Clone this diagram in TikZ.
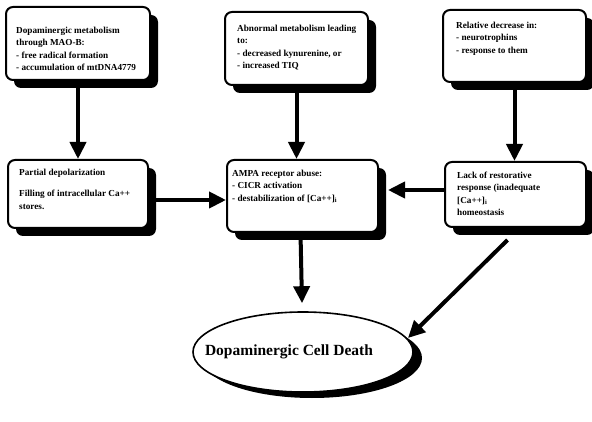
\documentclass[tikz,border=0pt]{standalone}
\usepackage{fontspec}
\setmainfont{Liberation Serif}
\usetikzlibrary{shapes.geometric,shadows,arrows.meta,calc}
\tikzset{
  box/.style={draw=black, line width=2pt, fill=white, rounded corners=7pt,
    drop shadow={shadow xshift=8pt, shadow yshift=-8pt, fill=black, opacity=1, rounded corners=7pt}},
  txt/.style={anchor=north west, inner sep=0pt, align=left, font=\bfseries\fontsize{9.2}{12.3}\selectfont},
  arr/.style={line width=4pt, -{Triangle[length=17pt,width=16pt]}},
}
\begin{document}
\begin{tikzpicture}[x=1pt,y=-1pt]
\useasboundingbox (0,0) rectangle (592,422);
% boxes
\node[box, minimum width=144pt, minimum height=73pt] (b1) at (78,43.5) {};
\node[box, minimum width=143pt, minimum height=73pt] (b2) at (296.5,48.5) {};
\node[box, minimum width=143pt, minimum height=72pt] (b3) at (514.5,46) {};
\node[box, minimum width=140pt, minimum height=68pt] (b4) at (78,194) {};
\node[box, minimum width=151pt, minimum height=72pt] (b5) at (302.5,196) {};
\node[box, minimum width=141pt, minimum height=65pt] (b6) at (515.5,194.5) {};
% texts
\node[txt] (t1) at ($(b1.north west)+(11,21)$) {Dopaminergic metabolism\\through MAO-B:\\- free radical formation\\- accumulation of mtDNA4779};
\node[txt] (t2) at ($(b2.north west)+(13,14)$) {Abnormal metabolism leading\\to:\\- decreased kynurenine, or\\- increased TIQ};
\node[txt] (t3) at ($(b3.north west)+(14,13)$) {Relative decrease in:\\- neurotrophins\\- response to them};
\node[txt] (t4) at ($(b4.north west)+(12,10)$) {Partial depolarization\\[9pt]Filling of intracellular Ca++\\stores.};
\node[txt] (t5) at ($(b5.north west)+(6,11)$) {AMPA receptor abuse:\\- CICR activation\\- destabilization of [Ca++]\textsubscript{i}};
\node[txt] (t6) at ($(b6.north west)+(13,11)$) {Lack of restorative\\response (inadequate\\{}[Ca++]\textsubscript{i}\\homeostasis};
% ellipse
\node[ellipse, fill=black, inner sep=0pt, minimum width=220pt, minimum height=80pt] (es) at (312,358) {};
\node[ellipse, draw=black, line width=1.6pt, fill=white, inner sep=0pt, minimum width=220pt, minimum height=80pt] (e) at (303,352) {};
\node[inner sep=0pt, font=\bfseries\fontsize{15.5}{17}\selectfont] (et) at ($(e.center)+(-14,0)$) {Dopaminergic Cell Death};
% arrows
\draw[arr] (b1.south) -- (b1.south |- b4.north);
\draw[arr] (b2.south) -- (b2.south |- b5.north);
\draw[arr] (b3.south) -- (b3.south |- b6.north);
\draw[arr] ($(b4.east)+(0,6)$) -- ($(b5.west)+(0,4)$);
\draw[arr] ($(b6.west)+(0,-4.5)$) -- ($(b5.east)+(9,-6)$);
\draw[arr] ($(b5.south)+(-2,0)$) -- ($(e.north)+(-1,-8)$);
\draw[arr] ($(b6.south)+(-8,12)$) -- ($(e.center)+(105,-14)$);
\end{tikzpicture}
\end{document}
